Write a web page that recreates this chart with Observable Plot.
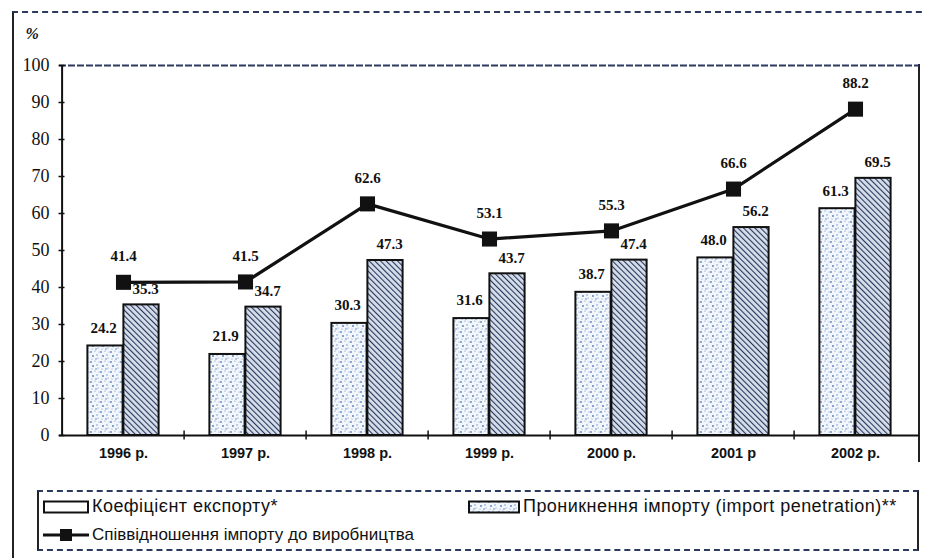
<!DOCTYPE html>
<html><head><meta charset="utf-8">
<script src="https://cdn.jsdelivr.net/npm/d3@7"></script>
<script src="https://cdn.jsdelivr.net/npm/@observablehq/plot@0.6"></script>
<style>
body{margin:0;background:#fff;}
#wrap{position:relative;width:925px;height:558px;overflow:hidden;background:#fff;}
#frame{position:absolute;left:12px;top:11px;width:940px;height:600px;border-left:2px solid #222;border-top:2px dashed #2b3a5e;box-sizing:border-box;}
#rborder{position:absolute;left:918px;top:64px;width:0;height:398px;border-left:2px solid #222;}
#chart{position:absolute;left:0;top:0;}
#legend{position:absolute;left:37px;top:490px;width:882px;height:61px;border:2px solid #222;border-top:2px dashed #2b3a5e;border-bottom:2px dashed #2b3a5e;box-sizing:border-box;font-family:"Liberation Sans",Arial,sans-serif;font-size:17px;color:#111;}
.item{position:absolute;display:flex;align-items:center;gap:3px;white-space:nowrap;}
.wide{font-size:18px;letter-spacing:0.45px;}
</style>
</head><body>
<div id="wrap"><div id="frame"></div><div id="rborder"></div><div id="chart"></div>
<div id="legend">
  <div class="item" style="left:4px;top:4px"><svg width="46" height="14"><rect x="1" y="1.5" width="44" height="11" fill="#fff" stroke="#111" stroke-width="2"/></svg><span class="wide">Коефіцієнт експорту*</span></div>
  <div class="item" style="left:429px;top:4px"><svg width="52" height="14"><rect x="1" y="1.5" width="50" height="11" fill="url(#pExp)" stroke="#111" stroke-width="2"/></svg><span class="wide">Проникнення імпорту (import penetration)**</span></div>
  <div class="item" style="left:4px;top:33px"><svg width="46" height="14"><line x1="0" y1="7" x2="46" y2="7" stroke="#111" stroke-width="3"/><rect x="17" y="1" width="12" height="12" fill="#111"/></svg><span>Співвідношення імпорту до виробництва</span></div>
</div>
</div>
<script>
const years = ["1996 р.","1997 р.","1998 р.","1999 р.","2000 р.","2001 р","2002 р."];
const exportCoef = [24.2, 21.9, 30.3, 31.6, 38.7, 48.0, 61.3];
const importPen = [35.3, 34.7, 47.3, 43.7, 47.4, 56.2, 69.5];
const importRatio = [41.4, 41.5, 62.6, 53.1, 55.3, 66.6, 88.2];
const yTicks = [0,10,20,30,40,50,60,70,80,90,100];

const rows = years.map((y,i)=>({year:y, exp:exportCoef[i], imp:importPen[i], ratio:importRatio[i]}));

function defs(){
  const d = d3.create("svg:defs");
  const pe = d.append("pattern").attr("id","pExp").attr("patternUnits","userSpaceOnUse").attr("width",10).attr("height",10);
  pe.append("rect").attr("width",10).attr("height",10).attr("fill","#f3f6fb");
  [[1,2,0.9],[5,1,0.6],[3,6,1.0],[7,5,0.7],[8,8,0.6],[2,9,0.5],[6,9,0.8],[9,2,0.5]].forEach(([x,y,r])=>pe.append("circle").attr("cx",x).attr("cy",y).attr("r",r).attr("fill","#5f86c0"));
  const pi = d.append("pattern").attr("id","pImp").attr("patternUnits","userSpaceOnUse").attr("width",4).attr("height",4).attr("patternTransform","rotate(-45)");
  pi.append("rect").attr("width",4).attr("height",4).attr("fill","#d7dfeb");
  pi.append("line").attr("x1",0).attr("y1",0).attr("x2",0).attr("y2",4).attr("stroke","#27365c").attr("stroke-width",2.2);
  return d.node();
}

const labelFont = {fontFamily:"Liberation Serif, serif", fontWeight:"bold", fontSize:15, fill:"#111"};

const chart = Plot.plot({
  width: 925, height: 480,
  marginLeft: 59, marginRight: 6, marginTop: 65, marginBottom: 45,
  style: {fontFamily:"Liberation Sans, Arial, sans-serif", fontSize:"14px", color:"#111", background:"transparent", overflow:"visible"},
  x: {domain: years, padding: 0, label: null},
  y: {domain: [0,100], label: null},
  marks: [
    defs,
    Plot.ruleY([100], {stroke:"#2b3a5e", strokeDasharray:"7,2", strokeWidth:1.8}),
    Plot.barY(rows, {x:"year", y:"exp", fill:"url(#pExp)", stroke:"#111", strokeWidth:2, insetLeft:25.4, insetRight:61.4}),
    Plot.barY(rows, {x:"year", y:"imp", fill:"url(#pImp)", stroke:"#111", strokeWidth:2, insetLeft:61.4, insetRight:25.4}),
    Plot.ruleY([0], {stroke:"#111", strokeWidth:2}),
    Plot.ruleX([years[0]], {x:d=>d, y1:0, y2:100, dx:-61.4, stroke:"#111", strokeWidth:2}),
    Plot.tickY(yTicks, {y:d=>d, x:()=>years[0], insetLeft:-3.5, insetRight:119.5, stroke:"#111", strokeWidth:1.5}),
    Plot.ruleX(years.slice(1), {x:d=>d, y1:1.2, y2:-1.2, dx:-61.4, stroke:"#111", strokeWidth:1.5}),
    Plot.line(rows, {x:"year", y:"ratio", stroke:"#111", strokeWidth:3.2}),
    Plot.dot(rows, {x:"year", y:"ratio", symbol:"square", r:8.5, fill:"#111"}),
    Plot.text(rows, {x:"year", y:"exp", text:d=>d.exp.toFixed(1), dx:-20, dy:-18, ...labelFont}),
    Plot.text(rows, {x:"year", y:"imp", text:d=>d.imp.toFixed(1), dx:22, dy:-16, ...labelFont}),
    Plot.text(rows, {x:"year", y:"ratio", text:d=>d.ratio.toFixed(1), dy:-26, ...labelFont}),
    Plot.text(["%"], {frameAnchor:"top-left", dx:-34, dy:-38, text:d=>d, fontFamily:"Liberation Serif, serif", fontStyle:"italic", fontWeight:"bold", fontSize:16}),
    Plot.axisY({ticks:yTicks, tickSize:0, tickPadding:10, fontSize:18, fontFamily:"Liberation Serif, serif", label:null}),
    Plot.axisX({tickSize:0, tickPadding:12, fontSize:14.5, fontWeight:"bold", label:null})
  ]
});
document.getElementById("chart").appendChild(chart);
</script>
</body></html>
